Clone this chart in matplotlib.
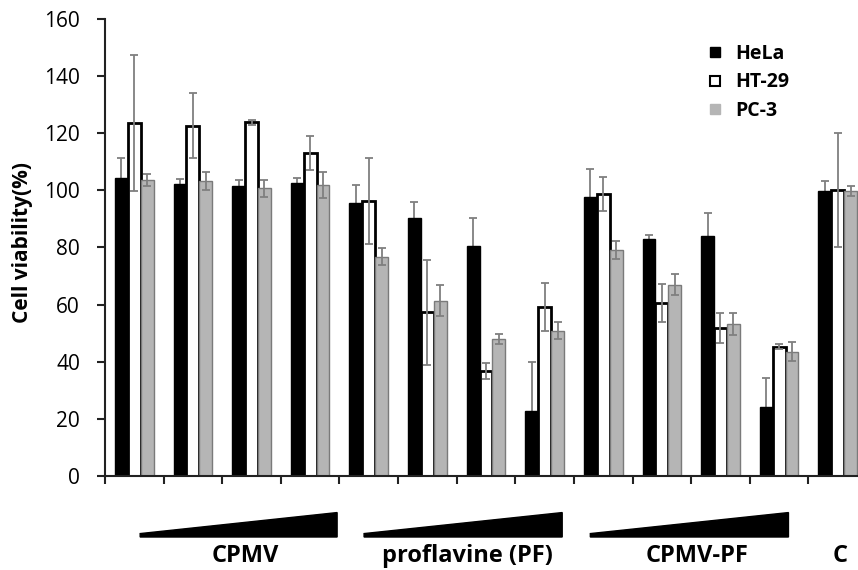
import numpy as np
import matplotlib
matplotlib.use("Agg")
import matplotlib.pyplot as plt
from matplotlib.lines import Line2D
from matplotlib.patches import Polygon

plt.rcParams['font.family'] = ['Open Sans', 'DejaVu Sans']

# data (13 treatment groups, 3 cell lines)
hela = [104.2, 102.1, 101.6, 102.5, 95.5, 90.4, 80.6, 22.9, 97.8, 83.0, 84.1, 24.0, 99.9]
hela_err = [7.0, 1.8, 2.0, 2.0, 6.4, 5.4, 9.6, 17.0, 9.7, 1.4, 7.9, 10.2, 3.5]
ht29 = [123.5, 122.6, 123.8, 113.0, 96.3, 57.3, 36.9, 59.3, 98.7, 60.5, 51.7, 45.3, 100.1]
ht29_err = [23.8, 11.4, 0.8, 6.0, 15.0, 18.3, 2.8, 8.4, 5.9, 6.6, 5.3, 0.8, 20.0]
pc3 = [103.6, 103.3, 100.7, 101.9, 76.8, 61.4, 47.9, 50.8, 79.1, 66.9, 53.2, 43.5, 99.9]
pc3_err = [2.0, 3.3, 3.0, 4.6, 2.9, 5.5, 1.8, 3.0, 3.2, 3.7, 3.8, 3.3, 1.7]

series_names = ['HeLa', 'HT-29', 'PC-3']
group_labels = ['CPMV', 'proflavine (PF)', 'CPMV-PF', 'C']
# label centres and concentration wedges (in group units)
label_pos = [1.89, 5.69, 9.6, 12.04]
wedge_spans = [(0.1, 3.46), (3.92, 7.3), (7.78, 11.16)]

fig = plt.figure(figsize=(8.58, 5.70), dpi=100)
ax = fig.add_axes([105 / 858, 94 / 570, 762 / 858, 457 / 570])

x = np.arange(len(hela))
w = 0.22
err_kw = dict(ecolor='#7f7f7f', elinewidth=1.3, capsize=3, capthick=1.3)

ax.bar(x - w, hela, w, color='black', edgecolor='black', linewidth=1, zorder=2)
ax.bar(x, ht29, w, color='white', edgecolor='black', linewidth=2, zorder=2)
ax.bar(x + w, pc3, w, color='#b5b5b5', edgecolor='#7a7a7a', linewidth=1, zorder=2)
# HeLa bars hide the lower half of their error bars
ax.errorbar(x - w, hela, yerr=hela_err, fmt='none', zorder=1, **err_kw)
ax.errorbar(x, ht29, yerr=ht29_err, fmt='none', zorder=4, **err_kw)
ax.errorbar(x + w, pc3, yerr=pc3_err, fmt='none', zorder=4, **err_kw)

ax.set_xlim(-0.5, len(hela) - 0.5)
ax.set_ylim(0, 160)
ax.set_yticks(np.arange(0, 161, 20))
ax.set_xticks(np.arange(-0.5, len(hela), 1))
ax.set_xticklabels([])
ax.tick_params(axis='both', direction='out', length=6, width=1.5, color='#222222')
ax.tick_params(axis='y', labelsize=15, pad=12)
for s in ['top', 'right']:
    ax.spines[s].set_visible(False)
for s in ['left', 'bottom']:
    ax.spines[s].set_linewidth(1.5)
    ax.spines[s].set_color('#222222')

ax.set_ylabel('Cell viability(%)', fontsize=15, fontweight='bold')
ax.yaxis.set_label_coords(-0.094, 0.51)

# concentration wedges and group labels under the axis
trans = ax.get_xaxis_transform()
for x0, x1 in wedge_spans:
    poly = Polygon([(x0, -0.1335), (x1, -0.1335), (x1, -0.080), (x0, -0.126)],
                   closed=True, facecolor='black', edgecolor='black',
                   transform=trans, clip_on=False)
    ax.add_patch(poly)
for xp, lab in zip(label_pos, group_labels):
    ax.text(xp, -0.175, lab, transform=trans, ha='center', va='center',
            fontsize=17, fontweight='bold')

handles = [
    Line2D([], [], ls='none', marker='s', markersize=7, markerfacecolor='black', markeredgecolor='black'),
    Line2D([], [], ls='none', marker='s', markersize=7, markerfacecolor='white', markeredgecolor='black', markeredgewidth=1.5),
    Line2D([], [], ls='none', marker='s', markersize=7, markerfacecolor='#b5b5b5', markeredgecolor='#b5b5b5'),
]
leg = fig.legend(handles, series_names, loc='upper left', bbox_to_anchor=(696 / 858, 1 - 34 / 570),
                 frameon=False, borderpad=0, handlelength=1, handletextpad=0.5, labelspacing=0.45,
                 prop={'weight': 'bold', 'size': 14})

fig.savefig('out.png', dpi=100)
